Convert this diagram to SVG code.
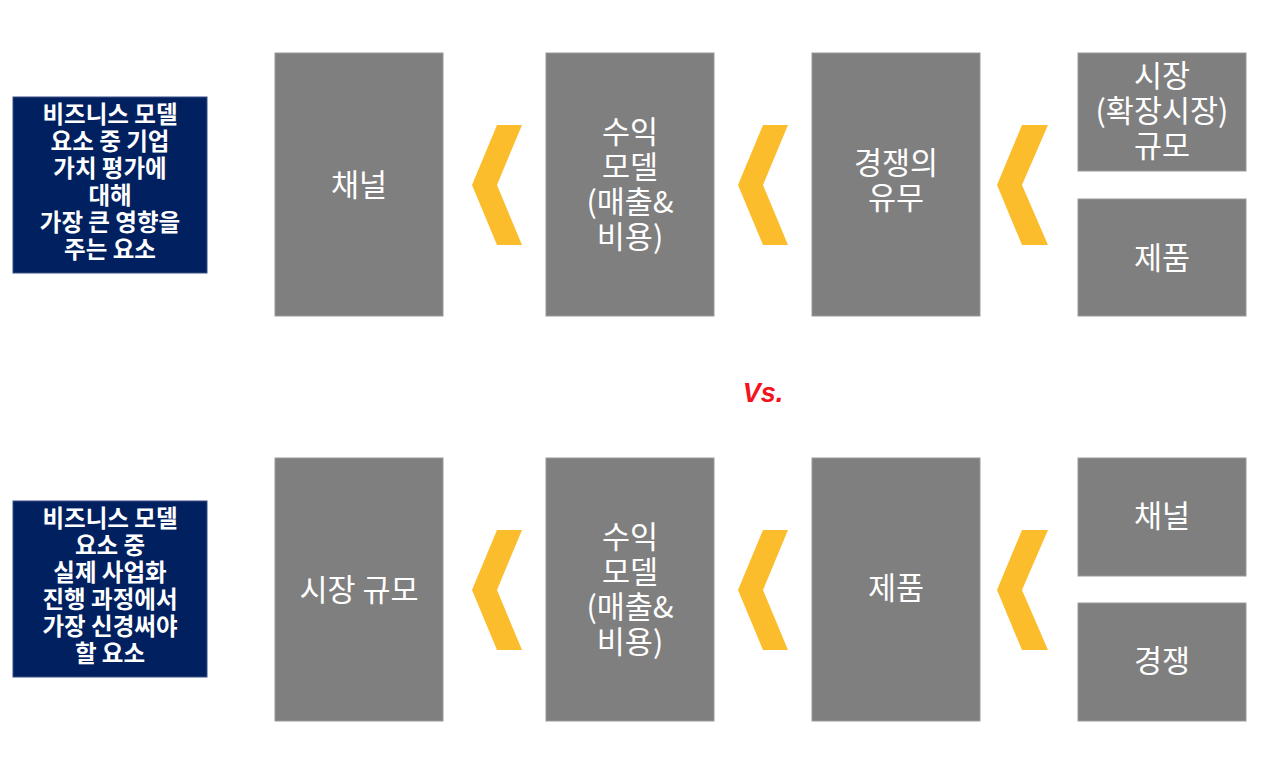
<svg xmlns="http://www.w3.org/2000/svg" width="1280" height="762" viewBox="0 0 1280 762">
<style>
.box{fill:#7f7f7f;stroke:#9a9a9a;stroke-width:1}
.lbl{fill:#ffffff;font-family:"Noto Sans CJK KR","Noto Sans",sans-serif;font-size:30.5px;text-anchor:middle}
.blue{fill:#002060;stroke:#3a4f86;stroke-width:1}
.bt{fill:#ffffff;font-family:"Noto Sans CJK KR","Noto Sans",sans-serif;font-size:23.5px;font-weight:bold;text-anchor:middle}
.chev{fill:#fbbd2c}
</style>
<rect width="1280" height="762" fill="#ffffff"/>
<g id="desc-top">
<rect class="blue" x="13" y="97" width="194" height="176"/>
<text class="bt"><tspan x="110" y="123">비즈니스 모델</tspan><tspan x="110" y="150">요소 중 기업</tspan><tspan x="110" y="177">가치 평가에</tspan><tspan x="110" y="204">대해</tspan><tspan x="110" y="231">가장 큰 영향을</tspan><tspan x="110" y="258">주는 요소</tspan></text>
</g>
<g id="t-channel">
<rect class="box" x="275" y="53" width="168" height="263"/>
<text class="lbl" x="359" y="196">채널</text>
</g>
<g id="t-revenue">
<rect class="box" x="546" y="53" width="168" height="263"/>
<text class="lbl"><tspan x="630" y="143">수익</tspan><tspan x="630" y="178">모델</tspan><tspan x="630" y="213">(매출&amp;</tspan><tspan x="630" y="248">비용)</tspan></text>
</g>
<g id="t-competition">
<rect class="box" x="812" y="53" width="168" height="263"/>
<text class="lbl"><tspan x="896" y="174">경쟁의</tspan><tspan x="896" y="209">유무</tspan></text>
</g>
<g id="t-market">
<rect class="box" x="1078" y="53" width="168" height="118"/>
<text class="lbl"><tspan x="1162" y="87">시장</tspan><tspan x="1162" y="122">(확장시장)</tspan><tspan x="1162" y="157">규모</tspan></text>
</g>
<g id="t-product">
<rect class="box" x="1078" y="199" width="168" height="117"/>
<text class="lbl" x="1162" y="269">제품</text>
</g>
<text x="763" y="402" fill="#f5121c" font-family="Liberation Sans, Arial, sans-serif" font-size="27" font-weight="bold" font-style="italic" text-anchor="middle">Vs.</text>
<g id="desc-bottom">
<rect class="blue" x="13" y="501" width="194" height="176"/>
<text class="bt"><tspan x="110" y="527">비즈니스 모델</tspan><tspan x="110" y="554">요소 중</tspan><tspan x="110" y="581">실제 사업화</tspan><tspan x="110" y="608">진행 과정에서</tspan><tspan x="110" y="635">가장 신경써야</tspan><tspan x="110" y="662">할 요소</tspan></text>
</g>
<g id="b-market">
<rect class="box" x="275" y="458" width="168" height="263"/>
<text class="lbl" x="359" y="601">시장 규모</text>
</g>
<g id="b-revenue">
<rect class="box" x="546" y="458" width="168" height="263"/>
<text class="lbl"><tspan x="630" y="548">수익</tspan><tspan x="630" y="583">모델</tspan><tspan x="630" y="618">(매출&amp;</tspan><tspan x="630" y="653">비용)</tspan></text>
</g>
<g id="b-product">
<rect class="box" x="812" y="458" width="168" height="263"/>
<text class="lbl" x="896" y="599">제품</text>
</g>
<g id="b-channel">
<rect class="box" x="1078" y="458" width="168" height="118"/>
<text class="lbl" x="1162" y="527">채널</text>
</g>
<g id="b-competition">
<rect class="box" x="1078" y="603" width="168" height="118"/>
<text class="lbl" x="1162" y="672">경쟁</text>
</g>
<g id="connectors">
<polygon class="chev" points="497,125 522,125 497,185 522,245 497,245 472,185"/>
<polygon class="chev" points="763,125 788,125 763,185 788,245 763,245 738,185"/>
<polygon class="chev" points="1022,125 1048,125 1022,185 1048,245 1022,245 997,185"/>
<polygon class="chev" points="497,530 522,530 497,590 522,650 497,650 472,590"/>
<polygon class="chev" points="763,530 788,530 763,590 788,650 763,650 738,590"/>
<polygon class="chev" points="1022,530 1048,530 1022,590 1048,650 1022,650 997,590"/>
</g>
</svg>
